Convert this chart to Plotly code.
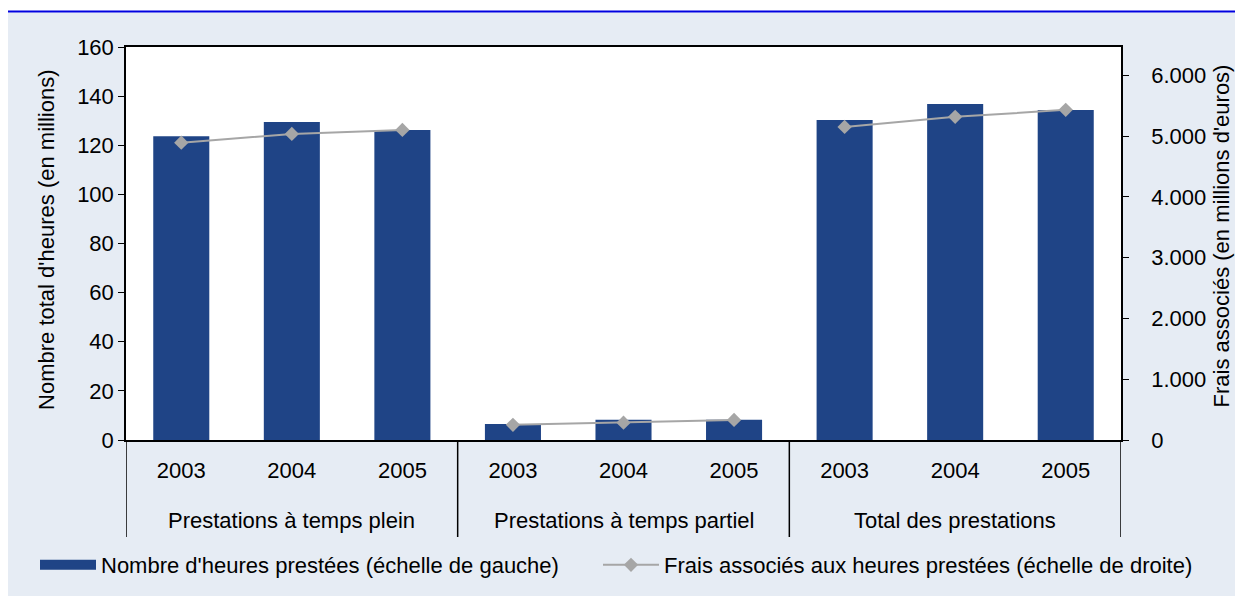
import plotly.graph_objects as go

groups = ["Prestations à temps plein", "Prestations à temps partiel", "Total des prestations"]
years = ["2003", "2004", "2005"]
hours = [
    [123.7, 129.5, 126.2],   # temps plein
    [6.5, 8.2, 8.2],         # temps partiel
    [130.3, 136.8, 134.4],   # total
]
costs = [
    [4890, 5035, 5100],
    [250, 285, 330],
    [5150, 5315, 5430],
]
bar_name = "Nombre d'heures prestées (échelle de gauche)"
line_name = "Frais associés aux heures prestées (échelle de droite)"
left_title = "Nombre total d'heures (en millions)"
right_title = "Frais associés (en millions d'euros)"

BAR = "#1F4486"
LINE = "#A6A6A6"
PANEL = "#E6ECF4"
FONT = "Liberation Sans, Arial, sans-serif"
FS = 22

n = len(years)
pos = [gi * n + yi for gi in range(len(groups)) for yi in range(n)]
ticktext = [y for _ in groups for y in years]
hv = [v for row in hours for v in row]

fig = go.Figure()
fig.add_trace(go.Bar(x=pos, y=hv, name=bar_name, marker=dict(color=BAR, line=dict(width=0)),
                     width=0.507, yaxis="y", showlegend=False))
# legend stand-in for the bar series (wide rectangle swatch)
fig.add_trace(go.Scatter(x=[None], y=[None], mode="lines", name=bar_name, legend="legend",
                         line=dict(color=BAR, width=15), yaxis="y"))
for i, g in enumerate(groups):
    fig.add_trace(go.Scatter(x=pos[i * n:(i + 1) * n], y=costs[i], name=line_name, yaxis="y2",
                             mode="lines+markers", legendgroup="cost", showlegend=(i == 0),
                             legend="legend2",
                             line=dict(color=LINE, width=2),
                             marker=dict(symbol="diamond", size=11, color=LINE)))

annotations = [
    dict(text=g, x=gi * n + (n - 1) / 2, xref="x", y=-80 / 393, yref="paper",
         xanchor="center", yanchor="middle", showarrow=False, font=dict(size=FS))
    for gi, g in enumerate(groups)
]
annotations += [
    dict(text=left_title, textangle=-90, x=(39 - 118) / 995, xref="paper", y=0.509, yref="paper",
         xanchor="center", yanchor="middle", showarrow=False, font=dict(size=FS)),
    dict(text=right_title, textangle=-90, x=(1213 - 118) / 995, xref="paper", y=0.518, yref="paper",
         xanchor="center", yanchor="middle", showarrow=False, font=dict(size=FS)),
]

shapes = [
    dict(type="line", xref="x", yref="paper", x0=b, x1=b, y0=0, y1=-97 / 393,
         line=dict(color="black", width=1.5))
    for b in [gi * n - 0.5 for gi in range(len(groups) + 1)]
]
shapes += [
    dict(type="rect", xref="paper", yref="paper", x0=-0.2, x1=1.2, y0=1.0 + 34.5 / 393, y1=1.2,
         fillcolor="white", line=dict(width=0), layer="below"),
    dict(type="line", xref="paper", yref="paper", x0=-0.2, x1=1.2, y0=1.0 + 35.5 / 393,
         y1=1.0 + 35.5 / 393, line=dict(color="#0000E0", width=2)),
]

legend_common = dict(orientation="h", y=-125 / 393, yanchor="middle", font=dict(size=FS),
                     bgcolor="rgba(0,0,0,0)", itemwidth=56)

fig.update_layout(
    width=1243, height=596,
    paper_bgcolor=PANEL, plot_bgcolor="white",
    separators=",.",
    margin=dict(l=118, r=130, t=39, b=164, autoexpand=False),
    font=dict(family=FONT, size=FS, color="black"),
    xaxis=dict(range=[-0.5, len(pos) - 0.5], tickvals=pos, ticktext=ticktext, showline=True,
               linecolor="black", linewidth=1.5, mirror=True, ticks="", showgrid=False,
               zeroline=False, ticklabelstandoff=10),
    yaxis=dict(range=[0, 160], dtick=20, showgrid=False, zeroline=False, showline=True,
               linecolor="black", linewidth=1.5, ticks="outside", ticklen=6, tickcolor="black"),
    yaxis2=dict(range=[0, 6464], tickvals=[0, 1000, 2000, 3000, 4000, 5000, 6000], tickformat=",d",
                overlaying="y", side="right", showgrid=False, zeroline=False, showline=True,
                linecolor="black", linewidth=1.5, ticks="outside", ticklen=6, tickcolor="black",
                ticklabelstandoff=18),
    legend=dict(x=(27 - 118) / 995, xanchor="left", **legend_common),
    legend2=dict(x=(590 - 118) / 995, xanchor="left", **legend_common),
    annotations=annotations,
    shapes=shapes,
)

fig.write_html("out.html")
